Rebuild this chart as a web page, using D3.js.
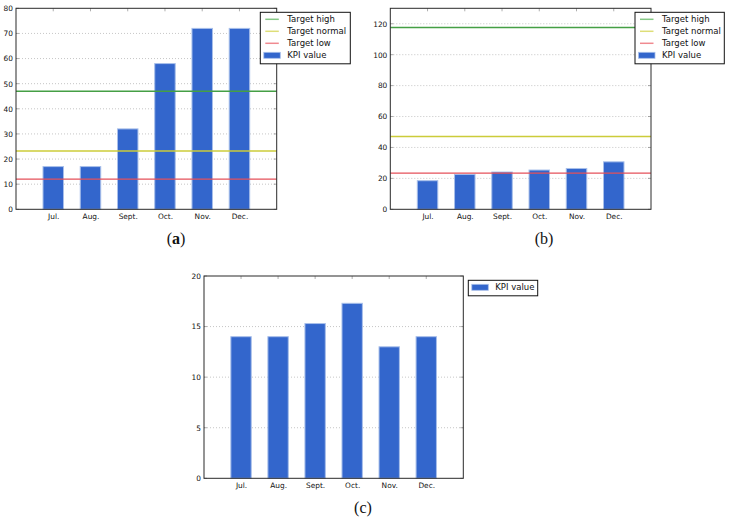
<!DOCTYPE html>
<html><head><meta charset="utf-8">
<script src="https://cdn.jsdelivr.net/npm/d3@7"></script>
<style>body{margin:0;background:#fff}svg{display:block}</style>
</head><body>
<svg id="fig" width="730" height="523"></svg>
<script>
const months = ["Jul.", "Aug.", "Sept.", "Oct.", "Nov.", "Dec."];
const kpiA = [17, 17, 32, 58, 72, 72];
const kpiB = [18.5, 22.6, 24.1, 25.4, 26.4, 30.7];
const kpiC = [14, 14, 15.3, 17.3, 13, 14];
const targetNames = ["Target high", "Target normal", "Target low"];
const targetsA = [47, 23.2, 12];
const targetsB = [117.6, 47.1, 23.4];
const yTicksA = [0, 10, 20, 30, 40, 50, 60, 70, 80];
const yTicksB = [0, 20, 40, 60, 80, 100, 120];
const yTicksC = [0, 5, 10, 15, 20];
const kpiName = "KPI value";

const targetColors = ["#459f45", "#cccc3a", "#e5505a"];
const legendColors = ["#86c886", "#dede78", "#f08a90"];
const barFill = "#3366cc", barEdge = "#a8bfea";
const svg = d3.select("#fig");
const font = "'DejaVu Sans', sans-serif";

function panel(cfg) {
  const x = d3.scaleLinear().domain([0, 7]).range([cfg.left, cfg.right]);
  const y = d3.scaleLinear().domain(cfg.ydom).range([cfg.bottom, cfg.top]);
  const g = svg.append("g");
  g.selectAll(".grid").data(cfg.yticks.filter(t => t > cfg.ydom[0] && t < cfg.ydom[1])).enter()
    .append("line").attr("x1", cfg.left).attr("x2", cfg.right)
    .attr("y1", d => y(d)).attr("y2", d => y(d))
    .attr("stroke", "#b8b8b8").attr("stroke-width", 0.8).attr("stroke-dasharray", "1,2");
  const bw = 0.55;
  g.selectAll(".bar").data(cfg.values).enter().append("rect")
    .attr("x", (d, i) => x(i + 1 - bw / 2)).attr("width", x(bw) - x(0))
    .attr("y", d => y(d)).attr("height", d => y(0) - y(d))
    .attr("fill", barFill).attr("stroke", barEdge).attr("stroke-width", 1);
  if (cfg.targets) {
    g.selectAll(".tl").data(cfg.targets).enter().append("line")
      .attr("x1", cfg.left).attr("x2", cfg.right)
      .attr("y1", d => y(d)).attr("y2", d => y(d))
      .attr("stroke", (d, i) => targetColors[i]).attr("stroke-width", 1.4);
  }
  const ax = d3.axisBottom(x).tickValues(months.map((m, i) => i + 1))
    .tickFormat((d) => months[d - 1]).tickSize(0).tickPadding(4);
  const xa = g.append("g").attr("transform", `translate(0,${cfg.bottom})`).call(ax);
  const ay = d3.axisLeft(y).tickValues(cfg.yticks).tickSize(0).tickPadding(3);
  const ya = g.append("g").attr("transform", `translate(${cfg.left},0)`).call(ay);
  [xa, ya].forEach(a => {
    a.select(".domain").remove();
    a.selectAll("text").attr("font-family", font).attr("font-size", 7.4).attr("fill", "#111");
  });
  const tk = g.append("g").attr("stroke", "#777").attr("stroke-width", 0.6);
  cfg.yticks.forEach(t => {
    tk.append("line").attr("x1", cfg.left).attr("x2", cfg.left + 3).attr("y1", y(t)).attr("y2", y(t));
    tk.append("line").attr("x1", cfg.right).attr("x2", cfg.right - 3).attr("y1", y(t)).attr("y2", y(t));
  });
  months.forEach((m, i) => {
    tk.append("line").attr("x1", x(i + 1)).attr("x2", x(i + 1)).attr("y1", cfg.top).attr("y2", cfg.top + 3);
  });
  g.append("rect").attr("x", cfg.left).attr("y", cfg.top)
    .attr("width", cfg.right - cfg.left).attr("height", cfg.bottom - cfg.top)
    .attr("fill", "none").attr("stroke", "#2a2a2a").attr("stroke-width", 1);
  const L = cfg.legend;
  const items = [];
  if (cfg.targets) targetNames.forEach((n, i) => items.push({name: n, type: "line", color: legendColors[i]}));
  items.push({name: kpiName, type: "patch"});
  const lg = g.append("g");
  lg.append("rect").attr("x", L.x).attr("y", L.y).attr("width", L.w)
    .attr("height", items.length * 12 + 3.5).attr("fill", "#fff")
    .attr("stroke", "#111").attr("stroke-width", 1);
  items.forEach((it, i) => {
    const cy = L.y + 7 + i * 12;
    if (it.type === "line") {
      lg.append("line").attr("x1", L.x + 5).attr("x2", L.x + 18.5).attr("y1", cy).attr("y2", cy)
        .attr("stroke", it.color).attr("stroke-width", 1.5);
    } else {
      lg.append("rect").attr("x", L.x + 3.5).attr("y", cy - 3).attr("width", 16.5).attr("height", 6)
        .attr("fill", barFill).attr("stroke", barEdge).attr("stroke-width", 0.8);
    }
    lg.append("text").attr("x", L.x + 27).attr("y", cy + 3).text(it.name)
      .attr("font-family", font).attr("font-size", 8.5).attr("fill", "#111");
  });
  const cap = svg.append("text").attr("x", cfg.cap[0]).attr("y", cfg.cap[1])
    .attr("text-anchor", "middle").attr("font-family", "'Liberation Serif', serif")
    .attr("font-size", 16).attr("fill", "#111");
  cap.append("tspan").text("(");
  cap.append("tspan").text(cfg.label).attr("font-weight", cfg.bold ? "bold" : "normal");
  cap.append("tspan").text(")");
}

panel({left: 16, right: 276.7, top: 8.3, bottom: 209.3, ydom: [0, 80], yticks: yTicksA,
  values: kpiA, targets: targetsA, legend: {x: 260.3, y: 12.3, w: 90}, cap: [176, 244], label: "a", bold: true});
panel({left: 390.3, right: 651, top: 8.3, bottom: 209.3, ydom: [0, 130], yticks: yTicksB,
  values: kpiB, targets: targetsB, legend: {x: 635, y: 12.3, w: 89.3}, cap: [544, 244], label: "b", bold: false});
panel({left: 204, right: 463.3, top: 276, bottom: 478.3, ydom: [0, 20], yticks: yTicksC,
  values: kpiC, targets: null, legend: {x: 468.3, y: 280.3, w: 69.4}, cap: [363, 513], label: "c", bold: false});
</script>
</body></html>
